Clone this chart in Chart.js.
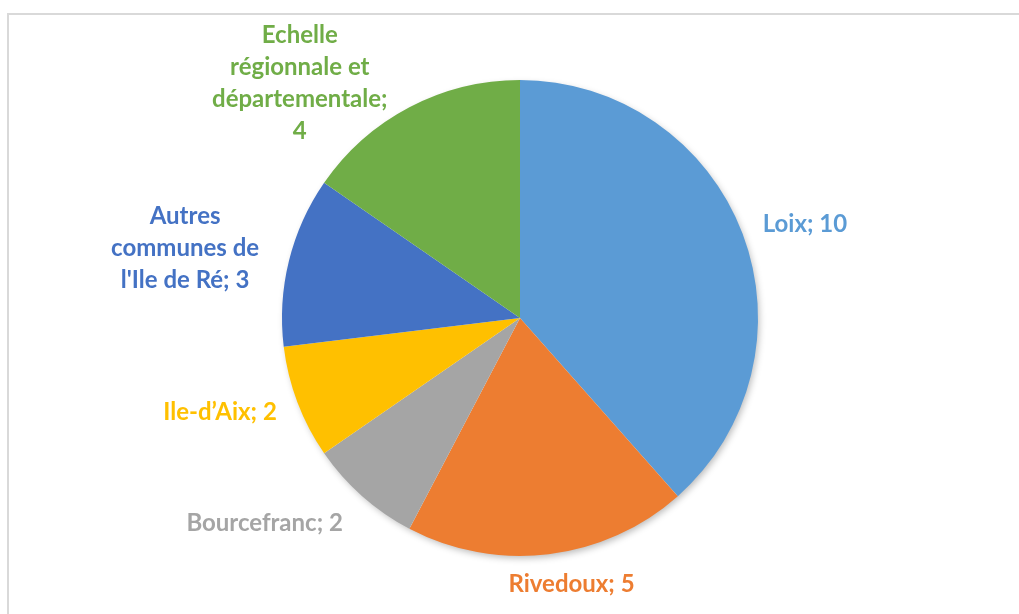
<!DOCTYPE html>
<html>
<head>
<meta charset="utf-8">
<script src="https://cdn.jsdelivr.net/npm/chart.js@4/dist/chart.umd.min.js"></script>
<style>
  html, body { margin: 0; padding: 0; background: #ffffff; }
  #wrap { position: relative; width: 1019px; height: 614px; }
</style>
</head>
<body>
<div id="wrap"><canvas id="c" width="1019" height="614"></canvas></div>
<script>
// ---- data ----
const categories = ["Loix", "Rivedoux", "Bourcefranc", "Ile-d\u2019Aix", "Autres communes de l'Ile de Ré", "Echelle régionnale et départementale"];
const values = [10, 5, 2, 2, 3, 4];
const labelLines = [
  ["Loix; 10"],
  ["Rivedoux; 5"],
  ["Bourcefranc; 2"],
  ["Ile-d\u2019Aix; 2"],
  ["Autres", "communes de", "l'Ile de Ré; 3"],
  ["Echelle", "régionnale et", "départementale;", "4"]
];
const colors = ["#5B9BD5", "#ED7D31", "#A5A5A5", "#FFC000", "#4472C4", "#70AD47"];
// label placement nudges (px) relative to an anchor just outside each slice
const labelNudgeX = [25, 18, -71, -40, -65, -91];
const labelNudgeY = [5, -10, -3, -4, -3, 11];

const FONT = "bold 24px Lato, 'Open Sans', sans-serif";
const LINE_H = 32;

const framePlugin = {
  id: 'frame',
  beforeDraw(chart) {
    const ctx = chart.ctx;
    ctx.save();
    ctx.strokeStyle = '#d9d9d9';
    ctx.lineWidth = 2;
    ctx.strokeRect(8, 14, chart.width + 20, chart.height + 20);
    ctx.restore();
  }
};

const shadowPlugin = {
  id: 'pieShadow',
  beforeDatasetsDraw(chart) {
    const arc = chart.getDatasetMeta(0).data[0];
    if (!arc) return;
    const ctx = chart.ctx;
    ctx.save();
    ctx.shadowColor = 'rgba(0,0,0,0.28)';
    ctx.shadowBlur = 7;
    ctx.shadowOffsetX = 2;
    ctx.shadowOffsetY = 3;
    ctx.fillStyle = '#ffffff';
    ctx.beginPath();
    ctx.arc(arc.x, arc.y, arc.outerRadius - 1, 0, Math.PI * 2);
    ctx.fill();
    ctx.restore();
  }
};

const labelPlugin = {
  id: 'outLabels',
  afterDatasetsDraw(chart) {
    const ctx = chart.ctx;
    const meta = chart.getDatasetMeta(0);
    ctx.save();
    ctx.font = FONT;
    ctx.textAlign = 'center';
    ctx.textBaseline = 'middle';
    meta.data.forEach((arc, i) => {
      const mid = (arc.startAngle + arc.endAngle) / 2;
      const r = arc.outerRadius + 40;
      const cx = arc.x + Math.cos(mid) * r + labelNudgeX[i];
      const cy = arc.y + Math.sin(mid) * r + labelNudgeY[i];
      const lines = labelLines[i];
      const top = cy - (lines.length - 1) * LINE_H / 2;
      ctx.fillStyle = colors[i];
      lines.forEach((t, j) => ctx.fillText(t, cx, top + j * LINE_H));
    });
    ctx.restore();
  }
};

new Chart(document.getElementById('c'), {
  type: 'pie',
  data: {
    labels: categories,
    datasets: [{
      data: values,
      backgroundColor: colors,
      borderWidth: 0,
      hoverOffset: 0
    }]
  },
  options: {
    responsive: false,
    animation: false,
    layout: { padding: { top: 80, bottom: 58, left: 21, right: 0 } },
    plugins: {
      legend: { display: false },
      tooltip: { enabled: false }
    }
  },
  plugins: [framePlugin, shadowPlugin, labelPlugin]
});
</script>
</body>
</html>
